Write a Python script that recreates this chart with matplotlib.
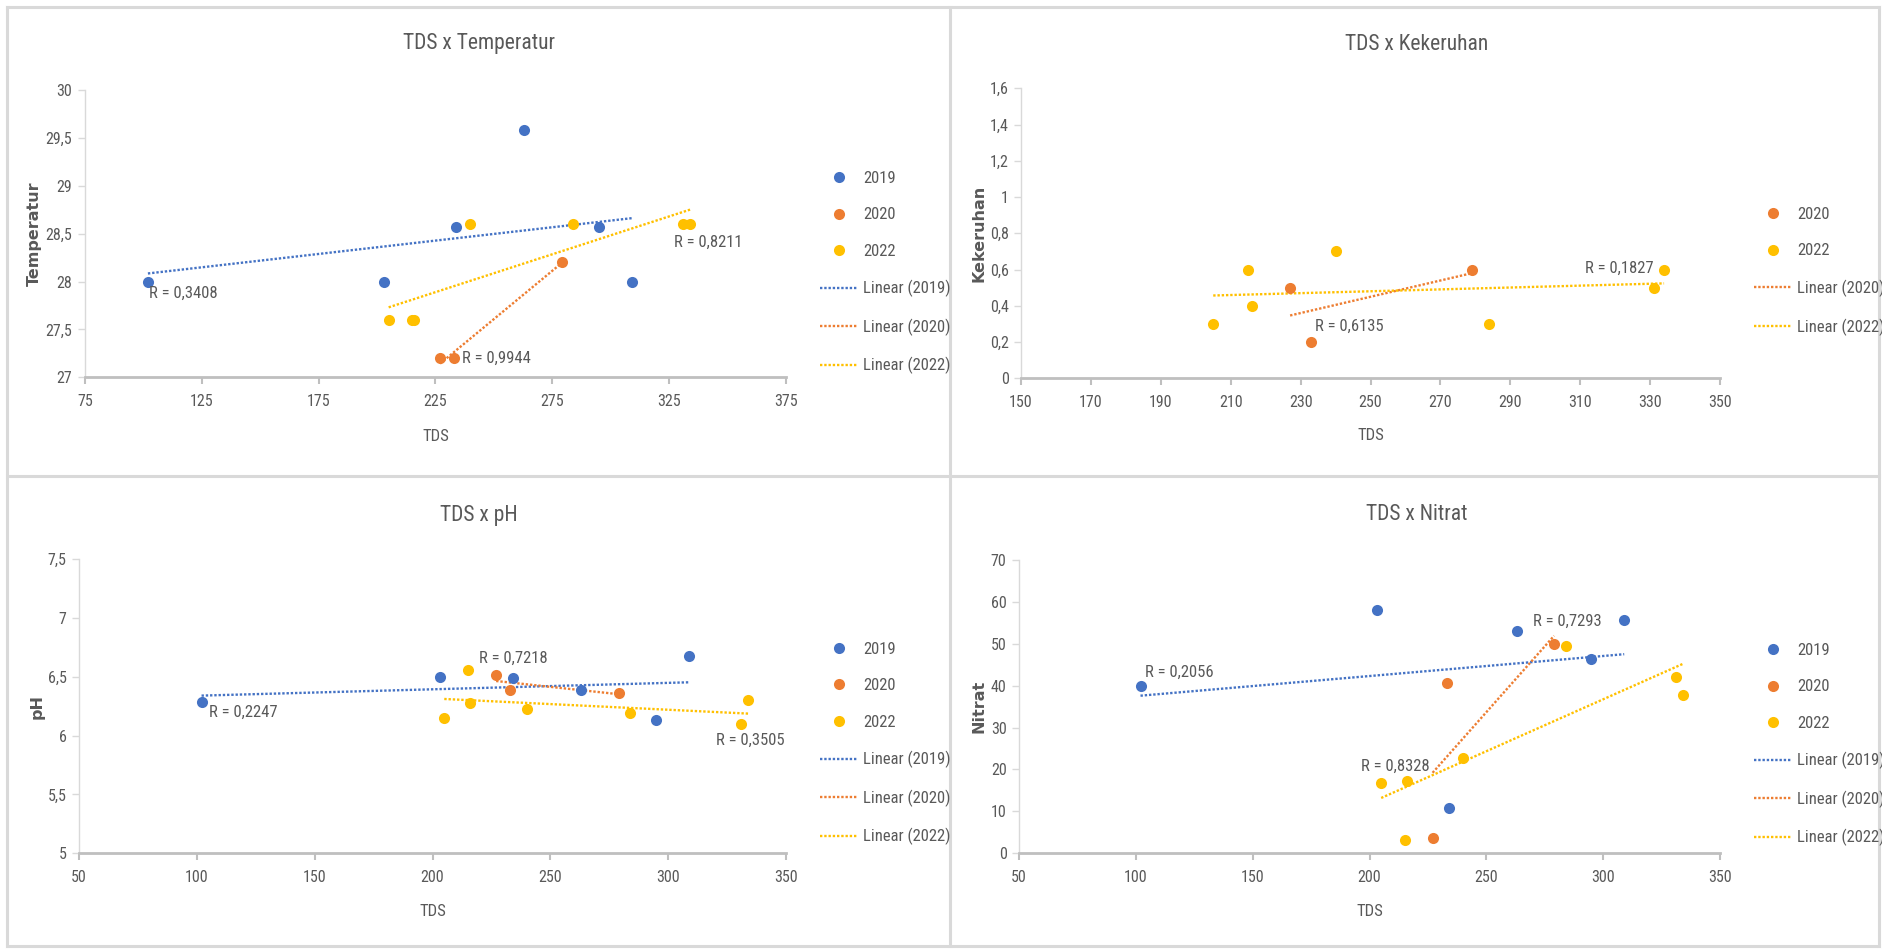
import numpy as np
import matplotlib
matplotlib.use("Agg")
import matplotlib.pyplot as plt
from matplotlib import font_manager
from matplotlib.ticker import FixedLocator, FuncFormatter
from matplotlib.lines import Line2D

# ---------------- data ----------------
years = ["2019", "2020", "2022"]

tds_2019 = [102, 203, 234, 263, 295, 309]
tds_2020 = [227, 233, 279]
tds_2022 = [205, 215, 216, 240, 284, 331, 334]

temp_2019 = [28.0, 28.0, 28.57, 29.58, 28.57, 28.0]
temp_2020 = [27.2, 27.2, 28.2]
temp_2022 = [27.6, 27.6, 27.6, 28.6, 28.6, 28.6, 28.6]

keruh_2020 = [0.5, 0.2, 0.6]
keruh_2022 = [0.3, 0.6, 0.4, 0.7, 0.3, 0.5, 0.6]

ph_2019 = [6.29, 6.50, 6.49, 6.39, 6.13, 6.68]
ph_2020 = [6.52, 6.39, 6.36]
ph_2022 = [6.15, 6.56, 6.28, 6.23, 6.19, 6.10, 6.30]

nitrat_2019 = [40.0, 58.1, 10.7, 53.0, 46.3, 55.7]
nitrat_2020 = [3.5, 40.7, 49.9]
nitrat_2022 = [16.7, 3.1, 17.1, 22.6, 49.4, 42.2, 37.9]

titles = ["TDS x Temperatur", "TDS x Kekeruhan", "TDS x pH", "TDS x Nitrat"]
ylabels = ["Temperatur", "Kekeruhan", "pH", "Nitrat"]
xlabel = "TDS"

r_temp = ["R = 0,3408", "R = 0,9944", "R = 0,8211"]
r_keruh = ["R = 0,6135", "R = 0,1827"]
r_ph = ["R = 0,2247", "R = 0,7218", "R = 0,3505"]
r_nitrat = ["R = 0,2056", "R = 0,8328", "R = 0,7293"]


# ---------------- fonts ----------------
def weight_num(w):
    if isinstance(w, (int, float)):
        return int(w)
    return font_manager.weight_dict.get(w, 400)


def pick_narrow_font():
    """Return (family, weight, stretch) of a light/regular narrow face, or None."""
    preferred = ["Liberation Sans Narrow", "Roboto Condensed", "Open Sans Condensed",
                 "Noto Sans", "Open Sans", "Roboto", "DejaVu Sans"]
    found = []
    for f in font_manager.fontManager.ttflist:
        st = f.stretch
        st_num = st if isinstance(st, (int, float)) else font_manager.stretch_dict.get(st, 500)
        narrow = ("Narrow" in f.name or "Condensed" in f.name or st_num < 500)
        if narrow and f.style == "normal" and weight_num(f.weight) <= 400:
            found.append(f)
    for name in preferred:
        hits = [f for f in found if f.name == name]
        if hits:
            hits.sort(key=lambda f: abs(weight_num(f.weight) - 350))
            return hits[0].name, weight_num(hits[0].weight), hits[0].stretch
    if found:
        f = found[0]
        return f.name, weight_num(f.weight), f.stretch
    return None


choice = pick_narrow_font()
if choice:
    fam, wt, st = choice
    plt.rcParams["font.family"] = [fam, "DejaVu Sans"]
    plt.rcParams["font.weight"] = wt
    plt.rcParams["font.stretch"] = st
    SCALE = 1.0
else:
    plt.rcParams["font.family"] = ["Liberation Sans", "DejaVu Sans"]
    SCALE = 0.82

COLORS = {"2019": "#4472C4", "2020": "#ED7D31", "2022": "#FFC000"}
TEXT = "#595959"
TICK_FS = 11.5 * SCALE
LEG_FS = 12 * SCALE
R_FS = 12 * SCALE
TITLE_FS = 15.5 * SCALE
XLAB_FS = 12 * SCALE
YLAB_FS = 11.5

W, H = 1882, 949
fig = plt.figure(figsize=(W / 100, H / 100), dpi=100)
fig.patch.set_facecolor("white")


def fx(px):
    return px / W


def fy(py):
    return 1 - py / H


def make_axes(left, right, top, bottom):
    return fig.add_axes([fx(left), fy(bottom), (right - left) / W, (bottom - top) / H])


comma_fmt = FuncFormatter(lambda v, p: ("%g" % round(v, 6)).replace(".", ","))


def style_axes(ax, xlim, xstep, ylim, ystep):
    ax.set_xlim(*xlim)
    ax.set_ylim(*ylim)
    ax.xaxis.set_major_locator(FixedLocator(np.arange(xlim[0], xlim[1] + xstep / 2, xstep)))
    ax.yaxis.set_major_locator(FixedLocator(np.arange(ylim[0], ylim[1] + ystep / 2, ystep)))
    ax.xaxis.set_major_formatter(comma_fmt)
    ax.yaxis.set_major_formatter(comma_fmt)
    ax.set_facecolor("none")
    for s in ["top", "right"]:
        ax.spines[s].set_visible(False)
    ax.spines["left"].set_color("#D9D9D9")
    ax.spines["left"].set_linewidth(1.0)
    ax.spines["bottom"].set_color("#BFBFBF")
    ax.spines["bottom"].set_linewidth(2.0)
    ax.tick_params(axis="x", direction="out", length=5, width=1.5, color="#BFBFBF",
                   pad=7, labelsize=TICK_FS, labelcolor=TEXT)
    ax.tick_params(axis="y", direction="out", length=5, width=1.0, color="#D9D9D9",
                   pad=4, labelsize=TICK_FS, labelcolor=TEXT)


def draw_panel(ax, series):
    # markers first so the legend lists points before trendlines
    for year, xs, ys in series:
        ax.plot(xs, ys, "o", color=COLORS[year], ms=8, mec="none",
                label=year, clip_on=False, zorder=3)
    for year, xs, ys in series:
        k, b = np.polyfit(xs, ys, 1)
        xx = np.array([min(xs), max(xs)], dtype=float)
        ax.plot(xx, k * xx + b, color=COLORS[year], lw=1.7, ls=(0, (1, 0.8)),
                label=f"Linear ({year})", zorder=2)


def add_legend(ax, left_px, top_px):
    ax.legend(loc="upper left", bbox_to_anchor=(fx(left_px), fy(top_px)),
              bbox_transform=fig.transFigure, frameon=False, fontsize=LEG_FS,
              labelcolor=TEXT, handlelength=37 / (LEG_FS * 100 / 72),
              handletextpad=6 / (LEG_FS * 100 / 72),
              labelspacing=1.28 / SCALE, borderpad=0, borderaxespad=0, numpoints=1)


def add_texts(title_xy, xlab_xy, ylab_xy, title, ylab):
    fig.text(fx(title_xy[0]), fy(title_xy[1]), title, ha="center", va="center",
             fontsize=TITLE_FS, color=TEXT)
    fig.text(fx(xlab_xy[0]), fy(xlab_xy[1]), xlabel, ha="center", va="center",
             fontsize=XLAB_FS, color=TEXT)
    fig.text(fx(ylab_xy[0]), fy(ylab_xy[1]), ylab, ha="center", va="center",
             rotation=90, fontsize=YLAB_FS, color=TEXT, fontweight="bold",
             family="DejaVu Sans", fontstretch="normal")


# ---------------- panel 1: temperature ----------------
ax1 = make_axes(84.8, 786, 90, 377.3)
style_axes(ax1, (75, 375), 50, (27, 30), 0.5)
draw_panel(ax1, [("2019", tds_2019, temp_2019),
                 ("2020", tds_2020, temp_2020),
                 ("2022", tds_2022, temp_2022)])
add_legend(ax1, 820, 171)
add_texts((479, 44), (435.4, 437), (34, 233.6), titles[0], ylabels[0])
ax1.text(102.5, 27.88, r_temp[0], fontsize=R_FS, color=TEXT, ha="left", va="center")
ax1.text(236.5, 27.2, r_temp[1], fontsize=R_FS, color=TEXT, ha="left", va="center")
ax1.text(327, 28.41, r_temp[2], fontsize=R_FS, color=TEXT, ha="left", va="center")

# ---------------- panel 2: turbidity ----------------
ax2 = make_axes(1021, 1720, 88.3, 378.3)
style_axes(ax2, (150, 350), 20, (0, 1.6), 0.2)
draw_panel(ax2, [("2020", tds_2020, keruh_2020),
                 ("2022", tds_2022, keruh_2022)])
add_legend(ax2, 1754, 207)
add_texts((1417, 44), (1370.5, 436), (979, 233.3), titles[1], ylabels[1])
ax2.text(234.2, 0.289, r_keruh[0], fontsize=R_FS, color=TEXT, ha="left", va="center")
ax2.text(331, 0.607, r_keruh[1], fontsize=R_FS, color=TEXT, ha="right", va="center")

# ---------------- panel 3: pH ----------------
ax3 = make_axes(79, 786, 559.3, 853.3)
style_axes(ax3, (50, 350), 50, (5, 7.5), 0.5)
draw_panel(ax3, [("2019", tds_2019, ph_2019),
                 ("2020", tds_2020, ph_2020),
                 ("2022", tds_2022, ph_2022)])
add_legend(ax3, 820, 642)
add_texts((479, 515), (432.5, 912), (37, 706.3), titles[2], ylabels[2])
ax3.text(105, 6.196, r_ph[0], fontsize=R_FS, color=TEXT, ha="left", va="center")
ax3.text(219.8, 6.658, r_ph[1], fontsize=R_FS, color=TEXT, ha="left", va="center")
ax3.text(320.4, 5.958, r_ph[2], fontsize=R_FS, color=TEXT, ha="left", va="center")

# ---------------- panel 4: nitrate ----------------
ax4 = make_axes(1019, 1720, 560.3, 853)
style_axes(ax4, (50, 350), 50, (0, 70), 10)
draw_panel(ax4, [("2019", tds_2019, nitrat_2019),
                 ("2020", tds_2020, nitrat_2020),
                 ("2022", tds_2022, nitrat_2022)])
add_legend(ax4, 1754, 643)
add_texts((1417, 515), (1369.5, 912), (979, 706.6), titles[3], ylabels[3])
ax4.text(104, 43.2, r_nitrat[0], fontsize=R_FS, color=TEXT, ha="left", va="center")
ax4.text(196.3, 20.65, r_nitrat[1], fontsize=R_FS, color=TEXT, ha="left", va="center")
ax4.text(270, 55.3, r_nitrat[2], fontsize=R_FS, color=TEXT, ha="left", va="center")

# ---------------- chart-area borders ----------------
border = dict(transform=fig.transFigure, color="#D9D9D9", lw=2.2, zorder=0)
for (x0, y0, x1, y1) in [(7, 7, 1879, 7), (7, 946, 1879, 946),
                         (7, 7, 7, 946), (1879, 7, 1879, 946),
                         (950, 7, 950, 946), (7, 476, 1879, 476)]:
    fig.add_artist(Line2D([fx(x0), fx(x1)], [fy(y0), fy(y1)], **border))

fig.savefig("out.png", dpi=100, facecolor="white")
